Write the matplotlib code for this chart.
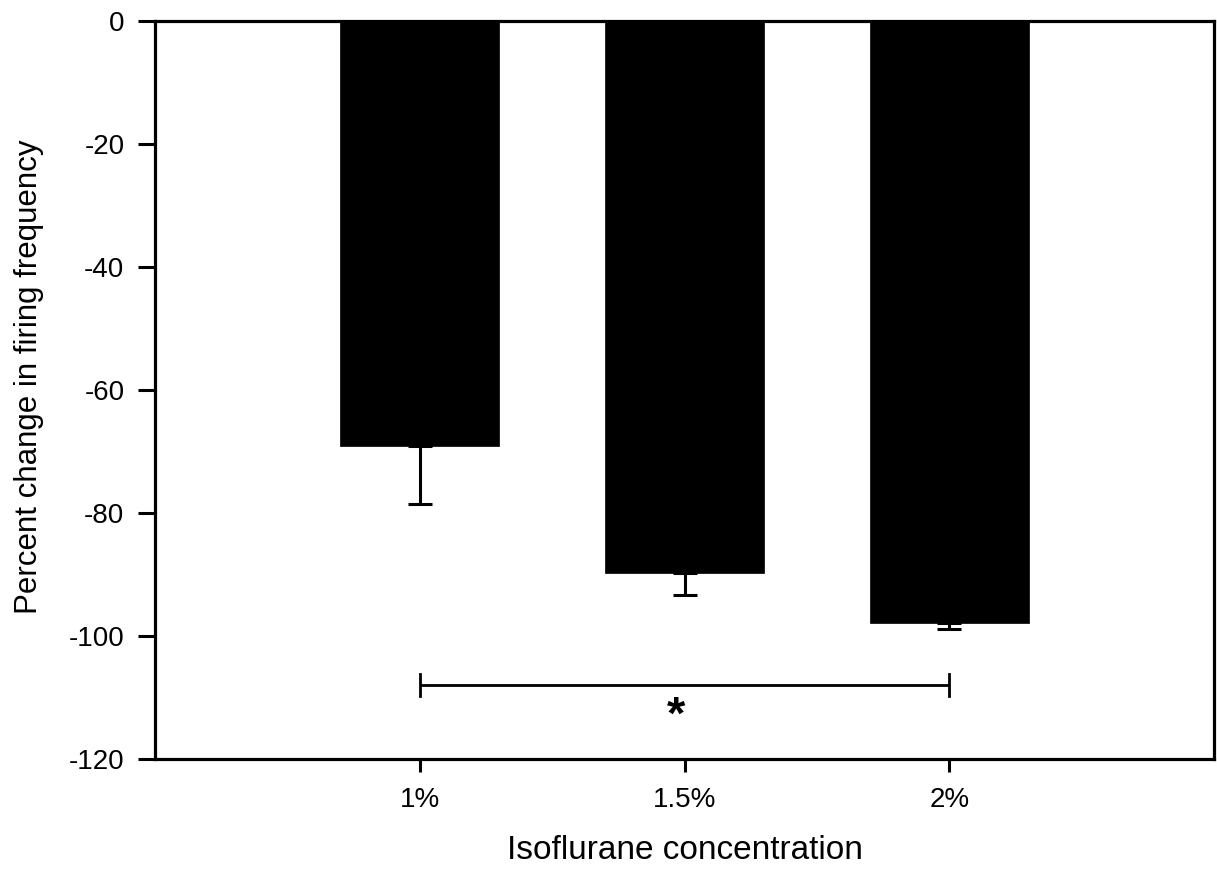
import matplotlib
matplotlib.use("Agg")
import matplotlib.pyplot as plt

plt.rcParams['font.family'] = ['Liberation Sans', 'DejaVu Sans']

categories = ["1%", "1.5%", "2%"]
values = [-69.1, -89.8, -97.9]
errors = [9.4, 3.5, 1.0]
sig_y = -108.0
sig_star_y = -115.1
y_ticks = [0, -20, -40, -60, -80, -100, -120]

fig = plt.figure(figsize=(12.17, 8.71), dpi=100)
ax = fig.add_axes([155/1217, 1 - 759/871, (1214-155)/1217, (759-21)/871])

x = list(range(len(categories)))
ax.bar(x, values, width=0.6, color='black', edgecolor='black', linewidth=0.5, zorder=2)
ax.errorbar(x, values, yerr=[errors, [0]*len(errors)], fmt='none', ecolor='black',
            elinewidth=2.2, capsize=8.3, capthick=2.2, zorder=3)

# significance bracket
ax.plot([x[0], x[2]], [sig_y, sig_y], color='black', lw=2.0, solid_capstyle='butt')
ax.plot([x[0], x[0]], [sig_y - 1.8, sig_y + 1.8], color='black', lw=2.0)
ax.plot([x[2], x[2]], [sig_y - 1.8, sig_y + 1.8], color='black', lw=2.0)
ax.text(0.97, sig_star_y, "*", ha='center', va='baseline', fontsize=34, fontweight='bold')

ax.set_xlim(-1, 3)
ax.set_ylim(-120, 0)
ax.set_xticks(x)
ax.set_xticklabels(categories)
ax.set_yticks(y_ticks)
ax.set_yticklabels([str(v) for v in y_ticks])
ax.tick_params(axis='both', direction='out', length=9, width=2.2, labelsize=20, pad=11,
               top=False, right=False)
ax.tick_params(axis='y', length=12, pad=10)
for s in ax.spines.values():
    s.set_linewidth(2.3)

ax.set_xlabel("Isoflurane concentration", fontsize=24, labelpad=16)
ax.set_ylabel("Percent change in firing frequency", fontsize=22.5)
ax.yaxis.set_label_coords((44 - 155) / 1059, (759 - 377) / 738)

fig.savefig("out.png", dpi=100)
